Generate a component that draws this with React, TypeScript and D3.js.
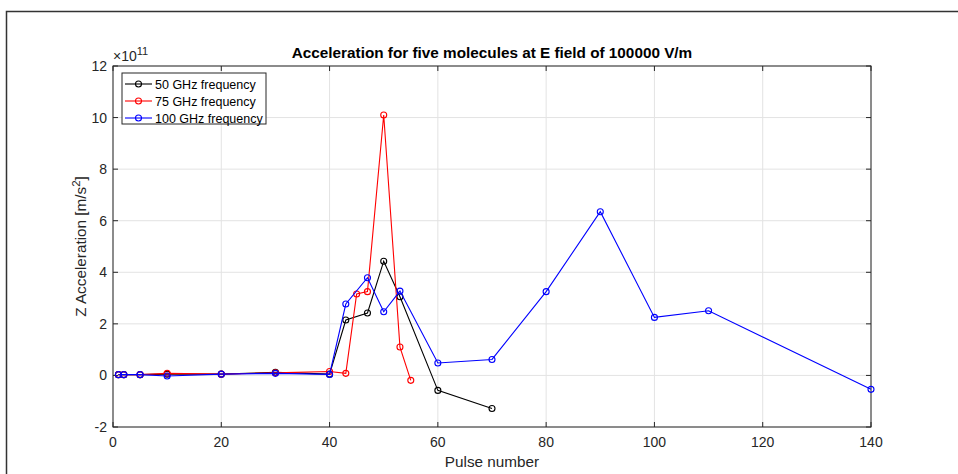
import React from "react";
import * as d3 from "d3";

// Pulse numbers and Z acceleration (units of 1e11 m/s^2) for each drive frequency
const pulses50 = [1, 2, 5, 10, 20, 30, 40, 43, 47, 50, 53, 60, 70];
const accel50 = [0.03, 0.03, 0.03, 0.05, 0.05, 0.12, 0.05, 2.15, 2.42, 4.43, 3.05, -0.58, -1.28];

const pulses75 = [1, 2, 5, 10, 20, 30, 40, 43, 45, 47, 50, 53, 55];
const accel75 = [0.03, 0.03, 0.03, 0.08, 0.05, 0.1, 0.15, 0.08, 3.16, 3.25, 10.1, 1.1, -0.19];

const pulses100 = [1, 2, 5, 10, 20, 30, 40, 43, 47, 50, 53, 60, 70, 80, 90, 100, 110, 140];
const accel100 = [0.03, 0.03, 0.03, -0.02, 0.05, 0.08, 0.04, 2.77, 3.79, 2.47, 3.27, 0.48, 0.62, 3.25, 6.35, 2.25, 2.51, -0.54];

const seriesNames = ["50 GHz frequency", "75 GHz frequency", "100 GHz frequency"];
const seriesColors = ["#000000", "#ff0000", "#0000ff"];

const xTicks = [0, 20, 40, 60, 80, 100, 120, 140];
const yTicks = [-2, 0, 2, 4, 6, 8, 10, 12];

const W = 958;
const H = 474;
const left = 113;
const right = 871;
const top = 66;
const bottom = 427;
const font = "'Liberation Sans', Arial, Helvetica, sans-serif";
const axisColor = "#262626";

export default function App() {
  const x = d3.scaleLinear().domain([0, 140]).range([left, right]);
  const y = d3.scaleLinear().domain([-2, 12]).range([bottom, top]);

  const series = [
    { xs: pulses50, ys: accel50 },
    { xs: pulses75, ys: accel75 },
    { xs: pulses100, ys: accel100 },
  ];

  const line = d3
    .line<[number, number]>()
    .x((d) => x(d[0]))
    .y((d) => y(d[1]));

  const tickLen = 5;

  return (
    <svg
      width={W}
      height={H}
      style={{ position: "fixed", left: 0, top: 0, background: "#fff" }}
      fontFamily={font}
    >
      <rect x={0} y={0} width={W} height={H} fill="#fff" />
      {/* outer frame */}
      <path d={`M6.5,${H} V11.5 H${W}`} fill="none" stroke="#333" strokeWidth={1.5} />

      {/* grid */}
      {xTicks.map((t) => (
        <line key={"gx" + t} x1={x(t)} x2={x(t)} y1={top} y2={bottom} stroke="#e3e3e3" strokeWidth={1} />
      ))}
      {yTicks.map((t) => (
        <line key={"gy" + t} x1={left} x2={right} y1={y(t)} y2={y(t)} stroke="#e3e3e3" strokeWidth={1} />
      ))}

      {/* axes box */}
      <rect x={left} y={top} width={right - left} height={bottom - top} fill="none" stroke={axisColor} strokeWidth={1} />

      {/* ticks on all four sides */}
      {xTicks.map((t) => (
        <g key={"tx" + t}>
          <line x1={x(t)} x2={x(t)} y1={bottom} y2={bottom - tickLen} stroke={axisColor} />
          <line x1={x(t)} x2={x(t)} y1={top} y2={top + tickLen} stroke={axisColor} />
          <text x={x(t)} y={447} textAnchor="middle" fontSize={14} fill={axisColor}>
            {t}
          </text>
        </g>
      ))}
      {yTicks.map((t) => (
        <g key={"ty" + t}>
          <line x1={left} x2={left + tickLen} y1={y(t)} y2={y(t)} stroke={axisColor} />
          <line x1={right} x2={right - tickLen} y1={y(t)} y2={y(t)} stroke={axisColor} />
          <text x={107} y={y(t) + 5} textAnchor="end" fontSize={14} fill={axisColor}>
            {t}
          </text>
        </g>
      ))}

      {/* exponent label */}
      <text x={113} y={61} fontSize={14} fill={axisColor}>
        ×10
        <tspan dy={-6} fontSize={11}>
          11
        </tspan>
      </text>

      {/* series */}
      {series.map((s, i) => {
        const pts = s.xs.map((v, j) => [v, s.ys[j]] as [number, number]);
        return (
          <g key={"s" + i}>
            <path d={line(pts) || ""} fill="none" stroke={seriesColors[i]} strokeWidth={1.1} />
            {pts.map((p, j) => (
              <circle key={j} cx={x(p[0])} cy={y(p[1])} r={3} fill="none" stroke={seriesColors[i]} strokeWidth={1.1} />
            ))}
          </g>
        );
      })}

      {/* legend */}
      <rect x={122} y={73} width={144} height={51} fill="#fff" stroke={axisColor} strokeWidth={1} />
      {seriesNames.map((name, i) => {
        const ly = 84 + i * 17;
        return (
          <g key={"l" + i}>
            <line x1={125} x2={152} y1={ly} y2={ly} stroke={seriesColors[i]} strokeWidth={1.1} />
            <circle cx={138.5} cy={ly} r={3} fill="none" stroke={seriesColors[i]} strokeWidth={1.1} />
            <text x={155} y={ly + 4.5} fontSize={12.5} fill="#000">
              {name}
            </text>
          </g>
        );
      })}

      {/* title */}
      <text x={(left + right) / 2} y={58} textAnchor="middle" fontSize={15.3} fontWeight="bold" fill="#000">
        Acceleration for five molecules at E field of 100000 V/m
      </text>

      {/* axis labels */}
      <text x={(left + right) / 2} y={467} textAnchor="middle" fontSize={15.3} fill={axisColor}>
        Pulse number
      </text>
      <text
        transform={`translate(86, ${(top + bottom) / 2}) rotate(-90)`}
        textAnchor="middle"
        fontSize={15.3}
        fill={axisColor}
      >
        Z Acceleration [m/s
        <tspan dy={-6} fontSize={11.5}>
          2
        </tspan>
        <tspan dy={6}>]</tspan>
      </text>
    </svg>
  );
}
